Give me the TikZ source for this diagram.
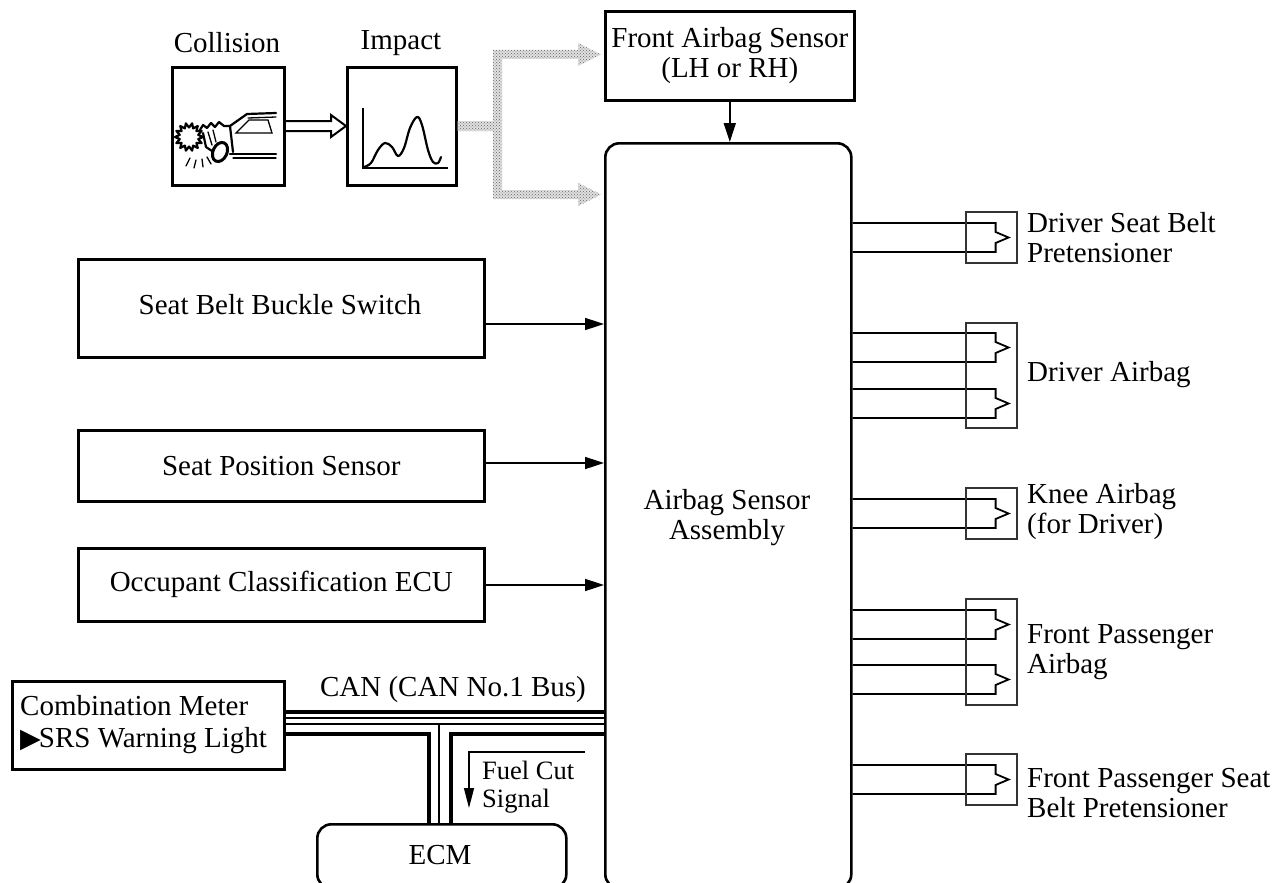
\documentclass[tikz,border=0pt]{standalone}
\usepackage{fontspec}
\setmainfont{Liberation Serif}
\newfontfamily\symfont{DejaVu Sans}
\usetikzlibrary{arrows.meta,patterns,calc}

\tikzset{
  box/.style={draw, line width=2.6pt, inner sep=0pt, anchor=north west},
  squibbox/.style={draw=black!80, line width=1.3pt},
  wire/.style={line width=1.8pt},
  arr/.style={line width=1.6pt, -{Triangle[length=19pt,width=12pt]}},
  txt/.style={font=\fontsize{29}{30}\selectfont, inner sep=0pt},
  lbl/.style={txt, align=left, anchor=west},
  thickbus/.style={line width=4pt},
  thinbus/.style={line width=1.5pt},
  pen/.style={line width=2.2pt, line join=round, line cap=round},
  fine/.style={line width=1.3pt, line cap=round},
  pics/squib/.style={code={
    \draw[wire] (0,0) -- (143,0) -- (143,9) -- (156,14.5) -- (143,20) -- (143,29) -- (0,29);
  }},
}

\begin{document}
\begin{tikzpicture}[x=1pt,y=-1pt]
\useasboundingbox (0,0) rectangle (1278,883);
\clip (0,0) rectangle (1278,883);

% ---------------- collision / impact ----------------
\node[txt] (tcol) at (227,43) {Collision};
\node[txt] (timp) at (401,43) {Impact};
\node[box, minimum width=112pt, minimum height=118pt] (col) at (171,66) {};
\node[box, minimum width=109pt, minimum height=118pt] (imp) at (346,66) {};

% crash sketch
\draw[pen] ($(189,137)+(0:14)$) \foreach \i in {1,...,27} { -- ($(189,137)+({\i*360/28}:{14-4.5*mod(\i,2)})$) } -- cycle;
\draw[pen] (200,130) -- (203,125) -- (207,128) -- (211,123) -- (215,127) -- (219,122) -- (224,126) -- (230,126);
\draw[pen] (230,126) -- (247,114) -- (276,113);
\draw[fine] (248,118) -- (276,117);
\draw[fine] (236,133) -- (249,120) -- (268,120) -- (272,133) -- cycle;
\draw[pen] (230,126) -- (233,152);
\draw[pen] (230,154) -- (276,154);
\draw[fine] (233,158) -- (276,158);
\draw[pen] (203,133) -- (206,147) -- (212,151);
\draw[fine] (208,132) -- (212,145);
\draw[fine] (213,130) -- (216,142);
\draw[line width=3pt, rotate around={-25:(220,152)}] (220,152) ellipse (7 and 10);
\draw[fine] (190,158) -- (186,166);
\draw[fine] (196,160) -- (194,168);
\draw[fine] (202,159) -- (203,167);
\draw[fine] (207,157) -- (211,164);

% hollow arrow collision -> impact
\draw[line width=2pt, line join=miter] (col.east |- 0,121) -- (331,121) -- (331,115) -- (imp.west |- 0,126) -- (331,137) -- (331,131) -- (col.east |- 0,131);

% impact graph
\draw[line width=1.3pt] (363,108) -- (363,168) -- (448,168);
\draw[pen] plot[smooth, tension=0.6] coordinates {(364,167) (371,163) (378,150) (385,143) (392,147) (398,156) (404,148) (410,128) (417,117) (422,125) (428,150) (433,162) (438,163) (441,157)};

% stippled signal arrows
\path[fill=black!12, postaction={pattern=crosshatch dots, pattern color=black!60}]
  (imp.east |- 0,121) -- (493,121) -- (493,50) -- (578,50) -- (578,43) -- (601,54.5)
  -- (578,66) -- (578,59) -- (502,59) -- (502,190) -- (578,190) -- (578,183)
  -- (601,194.5) -- (578,206) -- (578,199) -- (493,199) -- (493,131) -- (imp.east |- 0,131) -- cycle;

% ---------------- main units ----------------
\node[box, minimum width=249pt, minimum height=89pt, txt, align=center] (fas) at (604,10) {Front Airbag Sensor\\(LH or RH)};
\node[box, rounded corners=14pt, minimum width=246pt, minimum height=745pt] (asm) at (604,142) {};
\node[txt, align=center] (tasm) at (727,518) {Airbag Sensor\\Assembly};
\draw[arr] (fas.south) -- (fas.south |- asm.north);

% ---------------- inputs ----------------
\node[box, minimum width=406pt, minimum height=98pt] (belt) at (77,258) {};
\node[txt] (tbelt) at (280,305) {Seat Belt Buckle Switch};
\node[box, minimum width=406pt, minimum height=71pt, txt] (spos) at (77,429) {Seat Position Sensor};
\node[box, minimum width=406pt, minimum height=73pt, txt] (occ) at (77,547) {Occupant Classification ECU};

\coordinate (inb) at (belt.east |- 0,324);
\draw[arr] (inb) -- (inb -| asm.west);
\coordinate (ins) at (spos.east |- 0,463);
\draw[arr] (ins) -- (ins -| asm.west);
\coordinate (ino) at (occ.east |- 0,585);
\draw[arr] (ino) -- (ino -| asm.west);

% ---------------- CAN bus ----------------
\node[box, minimum width=272pt, minimum height=88pt] (meter) at (11,680) {};
\node[font=\fontsize{29}{32}\selectfont, inner sep=0pt, align=left, anchor=west] (tmeter) at (20,725)
  {Combination Meter\\{\symfont\fontsize{27}{32}\selectfont ▶}\kern-2pt SRS Warning Light};
\node[box, rounded corners=14pt, minimum width=249pt, minimum height=64pt] (ecm) at (316,823) {};
\node[txt] (tecm) at (440,855) {ECM};
\node[txt] (tcan) at (453,690) {CAN (CAN No.1 Bus)};

\draw[thickbus] (meter.east |- 0,712) -- (asm.west |- 0,712);
\draw[thinbus]  (meter.east |- 0,718) -- (asm.west |- 0,718);
\draw[thinbus]  (meter.east |- 0,724) -- (asm.west |- 0,724);
\draw[thickbus] (meter.east |- 0,734) -- (429,734) -- (ecm.north -| 429,0);
\draw[thickbus] (ecm.north -| 451,0) -- (451,734) -- (asm.west |- 0,734);
\draw[thinbus]  (439,724) -- (ecm.north -| 439,0);

% fuel cut signal
\coordinate (fc) at (585,752);
\draw[line width=1.4pt, -{Triangle[length=20pt,width=10pt]}] (fc) -- (469,752) -- (469,808);
\node[font=\fontsize{26.5}{28}\selectfont, inner sep=0pt, align=left, anchor=west] (tfc) at (482,787) {Fuel Cut\\Signal};

% ---------------- squib outputs ----------------
\pic (sq1) at (asm.east |- 0,223) {squib};
\draw[squibbox] (966,212) rectangle (1017,263);
\node[lbl] (l1) at (1027,238) {Driver Seat Belt\\Pretensioner};

\pic (sq2) at (asm.east |- 0,333) {squib};
\pic (sq3) at (asm.east |- 0,389) {squib};
\draw[squibbox] (966,323) rectangle (1017,428);
\node[lbl] (l2) at (1027,375) {Driver Airbag};

\pic (sq4) at (asm.east |- 0,499) {squib};
\draw[squibbox] (966,488) rectangle (1017,539);
\node[lbl] (l3) at (1027,512) {Knee Airbag\\(for Driver)};

\pic (sq5) at (asm.east |- 0,610) {squib};
\pic (sq6) at (asm.east |- 0,665) {squib};
\draw[squibbox] (966,599) rectangle (1017,705);
\node[lbl] (l4) at (1027,652) {Front Passenger\\Airbag};

\pic (sq7) at (asm.east |- 0,765) {squib};
\draw[squibbox] (966,754) rectangle (1017,805);
\node[lbl] (l5) at (1027,793) {Front Passenger Seat\\Belt Pretensioner};
\end{tikzpicture}
\end{document}
